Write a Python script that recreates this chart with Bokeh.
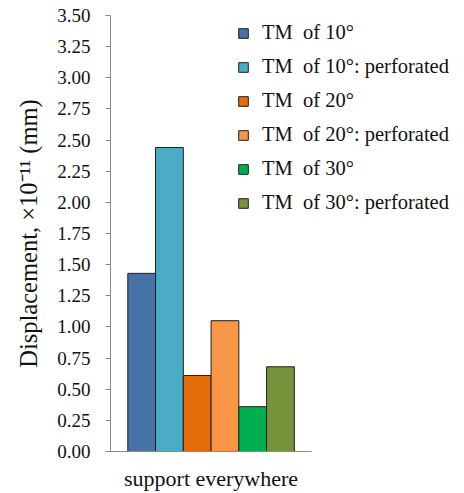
from bokeh.plotting import figure
from bokeh.models import (Range1d, SingleIntervalTicker, NumeralTickFormatter, FixedTicker,
                          Legend, LegendItem, ColumnDataSource)
from bokeh.embed import file_html
from bokeh.resources import INLINE

categories = ["support everywhere"]
series = ["TM  of 10\u00b0", "TM  of 10\u00b0: perforated", "TM  of 20\u00b0",
          "TM  of 20\u00b0: perforated", "TM  of 30\u00b0", "TM  of 30\u00b0: perforated"]
values = [1.43, 2.44, 0.61, 1.05, 0.36, 0.68]
colors = ["#4672A6", "#4BACC6", "#E46C0A", "#F79646", "#00B050", "#77933C"]

FONT = "Liberation Serif"
TEXT = "#111111"
AXIS = "#888888"

# numeric stand-in for the single category: category k occupies [k, k+1]
cat_pos = [k + 0.5 for k in range(len(categories))]

p = figure(width=464, height=493, x_range=Range1d(0, 1.74), y_range=Range1d(0, 3.5),
           output_backend="svg", toolbar_location=None,
           min_border_left=110, min_border_right=4, min_border_top=15, min_border_bottom=42)
p.outline_line_color = None
p.grid.visible = False
p.background_fill_color = "white"

bar_w = 0.138
n = len(series)
items = []
for i, (name, val, col) in enumerate(zip(series, values, colors)):
    off = (i - (n - 1) / 2) * bar_w
    src = ColumnDataSource(dict(x=[c + off for c in cat_pos], top=[val]))
    r = p.vbar(x="x", top="top", width=bar_w, bottom=0, source=src,
               fill_color=col, line_color="#1f1f1f", line_width=1)
    items.append(LegendItem(label=name, renderers=[r]))

legend = Legend(items=items, location=(127, 237), border_line_color=None,
                background_fill_alpha=0, padding=0, margin=0,
                glyph_width=12, glyph_height=12, label_standoff=13, spacing=11,
                label_text_font=FONT, label_text_font_size="20.5px", label_text_color=TEXT)
p.add_layout(legend, "center")

yax = p.yaxis[0]
yax.ticker = SingleIntervalTicker(interval=0.25)
yax.formatter = NumeralTickFormatter(format="0.00")
yax.axis_line_color = AXIS
yax.major_tick_line_color = AXIS
yax.major_tick_in = 0
yax.major_tick_out = 5
yax.minor_tick_line_color = None
yax.major_label_standoff = 15
yax.major_label_text_font = FONT
yax.major_label_text_font_size = "19px"
yax.major_label_text_color = TEXT
yax.axis_label = "Displacement, \u00d710\u207b\u00b9\u00b9 (mm)"
yax.axis_label_text_font = FONT
yax.axis_label_text_font_size = "24.5px"
yax.axis_label_text_font_style = "normal"
yax.axis_label_text_color = TEXT
yax.axis_label_standoff = 12

xax = p.xaxis[0]
xax.ticker = FixedTicker(ticks=cat_pos)
xax.major_label_overrides = {c: name for c, name in zip(cat_pos, categories)}
xax.bounds = (0, len(categories))
xax.axis_line_color = AXIS
xax.major_tick_line_color = None
xax.minor_tick_line_color = None
xax.major_label_standoff = 8
xax.major_label_text_font = FONT
xax.major_label_text_font_size = "22px"
xax.major_label_text_color = TEXT

open("out.html", "w").write(file_html(p, INLINE))
